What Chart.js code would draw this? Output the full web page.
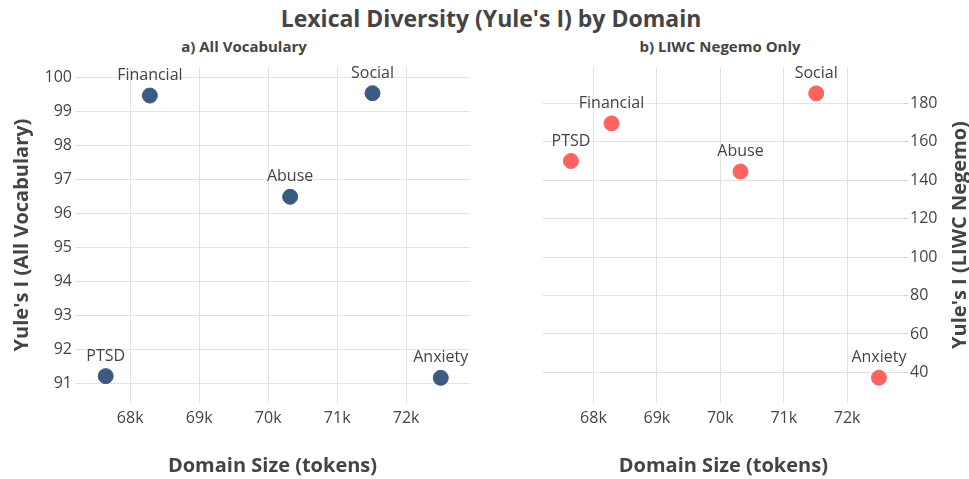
<!DOCTYPE html>
<html>
<head>
<meta charset="utf-8">
<script src="https://cdn.jsdelivr.net/npm/chart.js@4.4.1/dist/chart.umd.min.js"></script>
<style>
  html, body { margin: 0; padding: 0; background: #fff; }
  #wrap { position: relative; width: 969px; height: 479px; font-family: 'Open Sans', sans-serif; color: #444; }
  .title { position: absolute; white-space: nowrap; transform: translate(-50%, -50%); font-weight: bold; }
  .panel { position: absolute; top: 0; height: 479px; }
</style>
</head>
<body>
<div id="wrap">
  <div class="title" style="left:491px; top:18px; font-size:23px;">Lexical Diversity (Yule's I) by Domain</div>
  <div class="title" style="left:244px; top:46px; font-size:15px;">a) All Vocabulary</div>
  <div class="title" style="left:720px; top:46px; font-size:15px;">b) LIWC Negemo Only</div>
  <div class="panel" style="left:0; width:485px;"><canvas id="left"></canvas></div>
  <div class="panel" style="left:485px; width:484px;"><canvas id="right"></canvas></div>
</div>
<script>
// values
const domains = ['Financial', 'Social', 'Abuse', 'PTSD', 'Anxiety'];
const domainTokens = [68285, 71512, 70318, 67645, 72501];
const yuleAll = [99.47, 99.54, 96.49, 91.21, 91.16];
const yuleNegemo = [169.6, 185.2, 144.5, 150.0, 37.2];
const xTicks = [68000, 69000, 70000, 71000, 72000];
const yAllTicks = [91, 92, 93, 94, 95, 96, 97, 98, 99, 100];
const yNegemoTicks = [40, 60, 80, 100, 120, 140, 160, 180];

const textColor = '#444';
const gridColor = '#e3e3e3';
const font = "'Open Sans', sans-serif";

// writes the domain name above each dot
const pointLabels = {
  id: 'pointLabels',
  afterDatasetsDraw(chart) {
    const ctx = chart.ctx;
    const meta = chart.getDatasetMeta(0);
    ctx.save();
    ctx.font = '16px ' + font;
    ctx.fillStyle = textColor;
    ctx.textAlign = 'center';
    ctx.textBaseline = 'middle';
    meta.data.forEach((pt, i) => {
      ctx.fillText(domains[i], pt.x, pt.y - 20);
    });
    ctx.restore();
  }
};

// right-hand axis title reads bottom-to-top, like the left one
const rightTitle = {
  id: 'rightTitle',
  afterDraw(chart) {
    const ctx = chart.ctx;
    const area = chart.chartArea;
    ctx.save();
    ctx.translate(chart.width - 9, (area.top + area.bottom) / 2);
    ctx.rotate(-Math.PI / 2);
    ctx.font = 'bold 20px ' + font;
    ctx.fillStyle = textColor;
    ctx.textAlign = 'center';
    ctx.textBaseline = 'middle';
    ctx.fillText("Yule's I (LIWC Negemo)", 0, 0);
    ctx.restore();
  }
};

const keepTicks = (list) => (scale) => {
  scale.ticks = list.map(v => ({ value: v }));
};

function xScale(max) {
  return {
    type: 'linear',
    min: 67200,
    max: max,
    afterBuildTicks: keepTicks(xTicks),
    afterFit: (s) => { s.height = 75.7; },
    border: { display: false },
    grid: { color: gridColor, drawTicks: false },
    ticks: {
      color: textColor,
      padding: 6,
      maxRotation: 0,
      font: { family: font, size: 16 },
      callback: (v) => (v / 1000) + 'k'
    },
    title: {
      display: true,
      text: 'Domain Size (tokens)',
      color: textColor,
      font: { family: font, size: 20, weight: 'bold' },
      padding: { top: 0, bottom: 0.5 }
    }
  };
}

new Chart(document.getElementById('left'), {
  type: 'scatter',
  data: {
    datasets: [{
      data: domainTokens.map((x, i) => ({ x: x, y: yuleAll[i] })),
      backgroundColor: '#3d5a80',
      borderColor: '#3d5a80',
      pointRadius: 7.5,
      pointHoverRadius: 7.5
    }]
  },
  options: {
    responsive: true,
    maintainAspectRatio: false,
    animation: false,
    layout: { padding: { top: 66.7, right: 15, bottom: 0, left: 0 } },
    plugins: { legend: { display: false }, tooltip: { enabled: false } },
    scales: {
      x: xScale(72925),
      y: {
        type: 'linear',
        min: 90.41,
        max: 100.32,
        afterBuildTicks: keepTicks(yAllTicks),
        afterFit: (s) => { s.width = 75; },
        border: { display: false },
        grid: { color: gridColor, drawTicks: false },
        ticks: { color: textColor, padding: 3, font: { family: font, size: 16 } },
        title: {
          display: true,
          text: "Yule's I (All Vocabulary)",
          color: textColor,
          font: { family: font, size: 20, weight: 'bold' },
          padding: { top: 10, bottom: 0 }
        }
      }
    }
  },
  plugins: [pointLabels]
});

new Chart(document.getElementById('right'), {
  type: 'scatter',
  data: {
    datasets: [{
      data: domainTokens.map((x, i) => ({ x: x, y: yuleNegemo[i] })),
      backgroundColor: '#ff6361',
      borderColor: '#ff6361',
      pointRadius: 7.5,
      pointHoverRadius: 7.5
    }]
  },
  options: {
    responsive: true,
    maintainAspectRatio: false,
    animation: false,
    layout: { padding: { top: 66.7, right: 0, bottom: 0, left: 57.7 } },
    plugins: { legend: { display: false }, tooltip: { enabled: false } },
    scales: {
      x: xScale(72896),
      y: {
        type: 'linear',
        position: 'right',
        min: 23.9,
        max: 199.1,
        afterBuildTicks: keepTicks(yNegemoTicks),
        afterFit: (s) => { s.width = 65; },
        border: { display: false },
        grid: { color: gridColor, drawTicks: true, tickLength: 4, tickColor: '#cfcfcf' },
        ticks: { color: textColor, padding: 2, font: { family: font, size: 16 } }
      }
    }
  },
  plugins: [pointLabels, rightTitle]
});
</script>
</body>
</html>
